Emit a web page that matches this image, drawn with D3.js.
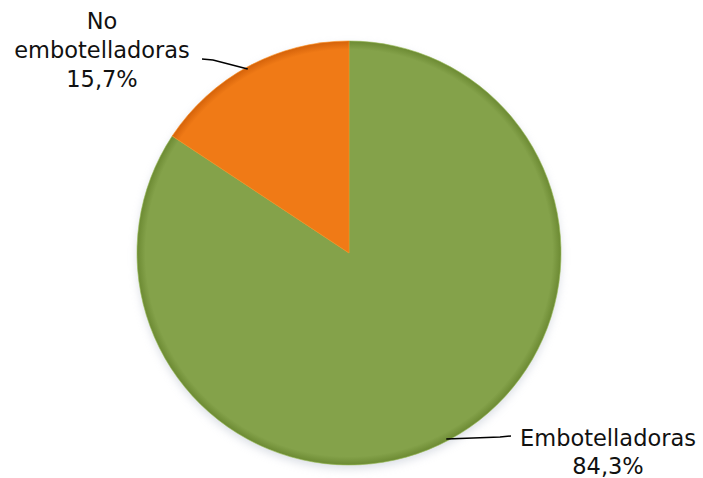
<!DOCTYPE html>
<html><head><meta charset="utf-8">
<script src="https://cdn.jsdelivr.net/npm/d3@7"></script>
<style>body{margin:0;background:#fff}svg{display:block}</style>
</head><body>
<svg id="c" width="703" height="478"></svg>
<script>
const categories = ["Embotelladoras", "No embotelladoras"];
const values = [84.3, 15.7];
const labels = ["84,3%", "15,7%"];
const colors = ["#84A24A", "#F07A16"];
const edgeColors = ["#6C8A33", "#D4620A"];

const svg = d3.select("#c");
const cx = 349, cy = 253, R = 212;
const defs = svg.append("defs");
const blur = defs.append("filter").attr("id","sh").attr("x","-20%").attr("y","-20%").attr("width","140%").attr("height","140%");
blur.append("feGaussianBlur").attr("stdDeviation", 4);

colors.forEach((c, i) => {
  const g = defs.append("radialGradient").attr("id","g"+i)
    .attr("gradientUnits","userSpaceOnUse").attr("cx",0).attr("cy",0).attr("r",R);
  g.append("stop").attr("offset","0%").attr("stop-color",c);
  g.append("stop").attr("offset","96%").attr("stop-color",c);
  g.append("stop").attr("offset","100%").attr("stop-color",edgeColors[i]);
});

const pie = d3.pie().sort(null).value(d => d)(values);
const arc = d3.arc().innerRadius(0).outerRadius(R);
const root = svg.append("g").attr("transform",`translate(${cx},${cy})`);

// shadow
root.append("circle").attr("cx",0).attr("cy",4).attr("r",R).attr("fill","#c4cad6").attr("opacity",0.6).attr("filter","url(#sh)");

root.selectAll("path.s").data(pie).join("path").attr("class","s")
  .attr("d", arc).attr("fill",(d,i)=>`url(#g${i})`)
  .attr("stroke",(d,i)=>d3.color(colors[i]).brighter(0.4)).attr("stroke-width",1).attr("stroke-opacity",0.6);

// Leader lines
const pt = (a, r) => [cx + r*Math.sin(a), cy - r*Math.cos(a)];
const pNo = pt(5.78, R - 2);
const pEm = pt(2.66, R - 2);
const line = d3.line();
svg.append("path").attr("d", line([pNo, [213, 60], [202, 59]])).attr("fill","none").attr("stroke","#000").attr("stroke-width",1.5);
svg.append("path").attr("d", line([pEm, [500, 437], [511, 436]])).attr("fill","none").attr("stroke","#000").attr("stroke-width",1.5);

const font = "'DejaVu Sans', sans-serif";
const fs = 22.5;
const t1 = svg.append("text").attr("text-anchor","middle").attr("font-family",font).attr("font-size",fs).attr("fill","#111");
t1.append("tspan").attr("x",102).attr("y",29).text("No");
t1.append("tspan").attr("x",102).attr("y",58).text("embotelladoras");
t1.append("tspan").attr("x",102).attr("y",87).text(labels[1]);

const t2 = svg.append("text").attr("text-anchor","middle").attr("font-family",font).attr("font-size",fs).attr("fill","#111");
t2.append("tspan").attr("x",608).attr("y",446).text(categories[0]);
t2.append("tspan").attr("x",608).attr("y",474).text(labels[0]);
</script>
</body></html>
